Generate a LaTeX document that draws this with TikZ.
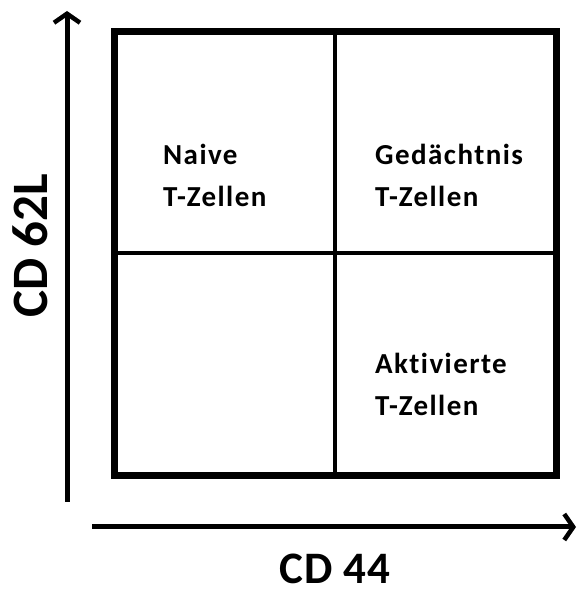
\documentclass[tikz,border=0pt]{standalone}
\usepackage{fontspec}
\setmainfont[Ligatures={NoCommon}]{Carlito}
\usetikzlibrary{arrows.meta}
\tikzset{
    cell/.style={anchor=north west,align=left,inner sep=0pt,
        font=\bfseries\fontsize{29}{42}\selectfont\addfontfeature{LetterSpace=5}},
    axislabel/.style={anchor=base,inner sep=0pt,text depth=0pt,
        font=\bfseries\fontsize{45}{50}\selectfont\addfontfeature{LetterSpace=2}},
    axis/.style={line width=5pt,-{Straight Barb[length=9pt,width=26pt,line width=4.5pt]}}
}
\begin{document}
\begin{tikzpicture}[x=1pt,y=1pt]
    \useasboundingbox (0,0) rectangle (578,595);
    % quadrant grid
    \draw[line width=4pt] (335,563) -- (335,119);
    \draw[line width=4pt] (114,342) -- (556,342);
    \draw[line width=7pt] (114,119) rectangle (556,563);
    % axes
    \coordinate (yfrom) at (67,93);
    \coordinate (yto) at (67,584);
    \coordinate (xfrom) at (92,68);
    \coordinate (xto) at (576,68);
    \draw[axis] (yfrom) -- (yto);
    \draw[axis] (xfrom) -- (xto);
    \node[axislabel] (cd44) at (335,11) {CD 44};
    \node[axislabel,rotate=90,font=\bfseries\fontsize{51}{55}\selectfont] (cd62l) at (47,349) {CD 62L};
    % cell types
    \node[cell] (naive) at (163,451) {Naive\\T-Zellen};
    \node[cell] (memory) at (375,451) {Gedächtnis\\T-Zellen};
    \node[cell] (active) at (375,242) {Aktivierte\\T-Zellen};
\end{tikzpicture}
\end{document}
